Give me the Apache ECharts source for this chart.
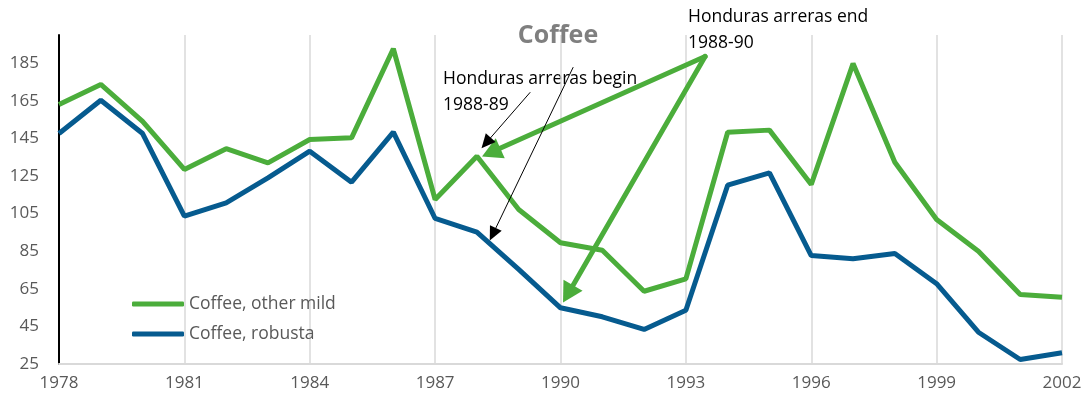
<!DOCTYPE html>
<html><head><meta charset="utf-8">
<script src="https://cdn.jsdelivr.net/npm/echarts@6/dist/echarts.min.js"></script>
<style>html,body{margin:0;padding:0;background:#fff}#c{width:1090px;height:404px}</style>
</head><body><div id="c"></div>
<script>
const years = [1978,1979,1980,1981,1982,1983,1984,1985,1986,1987,1988,1989,1990,1991,1992,1993,1994,1995,1996,1997,1998,1999,2000,2001,2002];
const otherMild = [163.0,173.7,154.1,128.5,139.5,132.0,144.4,145.3,192.7,112.5,135.5,107.2,89.5,85.5,63.7,70.3,148.3,149.4,120.5,184.8,132.3,101.9,85.0,62.0,60.5];
const robusta = [147.6,165.3,147.6,103.6,110.7,124.0,138.2,121.7,148.3,102.4,95.1,75.3,54.9,50.1,43.4,53.6,120.1,126.7,82.7,81.0,83.8,67.7,41.9,27.4,31.0];
const seriesNames = ['Coffee, other mild','Coffee, robusta'];
const titleText = 'Coffee';
const noteBegin = 'Honduras arreras begin\n1988-89';
const noteEnd = 'Honduras arreras end\n1988-90';
// annotation arrows in data space [year, value]
const arrowsBlack = [[[1989.27,169.4],[1988.22,142.6]], [[1990.3,182.7],[1988.38,94.0]]];
const arrowsGreen = [[[1993.46,188.6],[1988.34,137.6]], [[1993.46,188.6],[1990.18,62.3]]];

const GREEN = '#4bad3b', BLUE = '#065b8f', TXT = '#595959';
const font = 'Open Sans';
const chart = echarts.init(document.getElementById('c'));
const pairs = arr => years.map((y,i)=>[y,arr[i]]);
const ml = (list, color, width, size) => ({
  silent: true, symbol: ['none','triangle'], symbolSize: size,
  label: {show:false}, emphasis:{disabled:true},
  lineStyle: {color, width, type:'solid', cap:'round', join:'round'},
  itemStyle: {color},
  data: list.map(a => [{coord:a[0]},{coord:a[1]}])
});
chart.setOption({
  animation: false,
  title: {text: titleText, left: 553, top: 18, textAlign:'center',
    textStyle: {color:'#7f7f7f', fontSize: 25, fontWeight:'bold', fontFamily: font}},
  grid: {left: 59, right: 28, top: 35, bottom: 40},
  legend: {orient:'vertical', left: 127, top: 288, itemWidth: 52, itemHeight: 5, itemGap: 8,
    icon: 'roundRect',
    textStyle:{color:TXT, fontSize:17.5, fontFamily:font, lineHeight:22},
    data: seriesNames},
  xAxis: {type:'value', min:1978, max:2002, interval:3,
    axisLine:{show:true, lineStyle:{color:'#d9d9d9', width:2}},
    axisTick:{show:false},
    axisLabel:{color:TXT, fontSize:17, fontFamily:font, margin:11, formatter: v=>String(v)},
    splitLine:{show:true, lineStyle:{color:'#d9d9d9', width:1.5}}},
  yAxis: {type:'value', min:25, max:200, interval:20,
    axisLine:{show:true, lineStyle:{color:'#000', width:2}},
    axisTick:{show:false},
    axisLabel:{color:TXT, fontSize:17, fontFamily:font, margin:20, showMaxLabel:false},
    splitLine:{show:false}},
  series: [
    {name: seriesNames[0], type:'line', data: pairs(otherMild), symbol:'none',
     lineStyle:{color:GREEN, width:5}, itemStyle:{color:GREEN},
     markLine: ml(arrowsGreen, GREEN, 5, [22,20])},
    {name: seriesNames[1], type:'line', data: pairs(robusta), symbol:'none',
     lineStyle:{color:BLUE, width:5}, itemStyle:{color:BLUE},
     markLine: ml(arrowsBlack, '#000', 1, [13,14])}
  ],
  graphic: [
    {type:'text', left: 443, top: 66, style:{text: noteBegin, fill:'#000', font: '17.5px "'+font+'"', lineHeight: 26}},
    {type:'text', left: 688, top: 4, style:{text: noteEnd, fill:'#000', font: '17.5px "'+font+'"', lineHeight: 26}}
  ]
});
</script></body></html>
